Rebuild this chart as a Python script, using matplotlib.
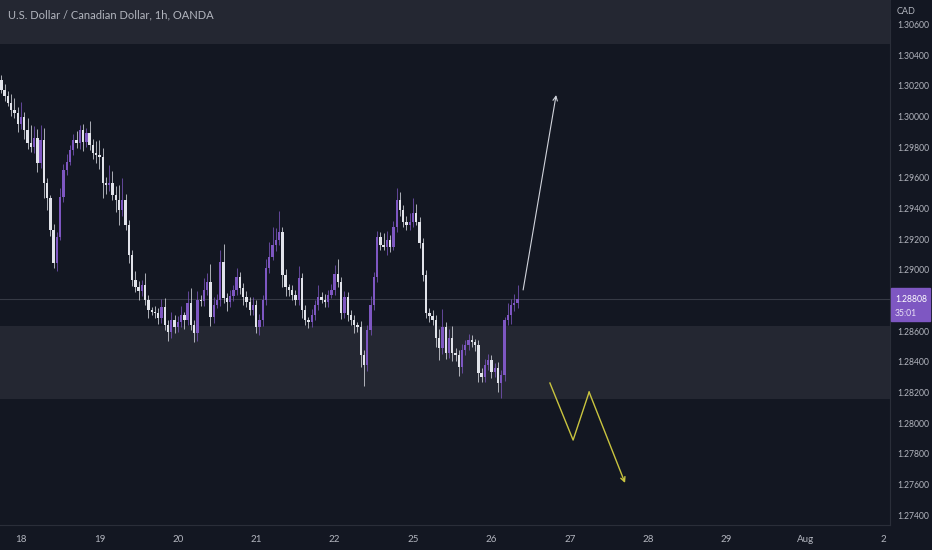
import matplotlib.pyplot as plt
from matplotlib.patches import Rectangle
from matplotlib.transforms import blended_transform_factory

# USD/CAD 1h, OANDA - hourly closes (first candle starts the list)
first_open = 1.30237
closes = [
    1.30172, 1.30133, 1.30087, 1.30042, 1.30022, 1.29950,
    # 18
    1.29996, 1.29911, 1.29826, 1.29800, 1.29859, 1.29696, 1.29846, 1.29566,
    1.29468, 1.29259, 1.29044, 1.29213, 1.29474, 1.29650, 1.29702, 1.29781,
    1.29846, 1.29826, 1.29911, 1.29833, 1.29892, 1.29813, 1.29761, 1.29748,
    # 19
    1.29735, 1.29566, 1.29552, 1.29566, 1.29487, 1.29455, 1.29389, 1.29455,
    1.29292, 1.29096, 1.28933, 1.28887, 1.28861, 1.28900, 1.28802, 1.28737,
    1.28724, 1.28718, 1.28685, 1.28757, 1.28639, 1.28594, 1.28672, 1.28626,
    # 20
    1.28659, 1.28705, 1.28672, 1.28783, 1.28639, 1.28587, 1.28802, 1.28796,
    1.28868, 1.28920, 1.28692, 1.28770, 1.28802, 1.29050, 1.28815, 1.28789,
    1.28829, 1.28868, 1.28952, 1.28881, 1.28822, 1.28789, 1.28737, 1.28770,
    # 21
    1.28626, 1.28672, 1.28802, 1.29011, 1.29083, 1.29161, 1.29194, 1.29246,
    1.28965, 1.28887, 1.28868, 1.28835, 1.28802, 1.28946, 1.28737, 1.28672,
    1.28659, 1.28705, 1.28770, 1.28822, 1.28802, 1.28789, 1.28835, 1.28868,
    # 22
    1.28972, 1.28920, 1.28718, 1.28822, 1.28705, 1.28672, 1.28639, 1.28626,
    1.28444, 1.28379, 1.28607, 1.28770, 1.28952, 1.29213, 1.29161, 1.29148,
    1.29194, 1.29148, 1.29279, 1.29455, 1.29389, 1.29311, 1.29292, 1.29311,
    # 25
    1.29370, 1.29311, 1.29174, 1.28965, 1.28718, 1.28698, 1.28672, 1.28555,
    1.28489, 1.28626, 1.28457, 1.28555, 1.28457, 1.28444, 1.28365, 1.28476,
    1.28509, 1.28542, 1.28529, 1.28509, 1.28327, 1.28300, 1.28379, 1.28411,
    # 26
    1.28333, 1.28359, 1.28261, 1.28313, 1.28672, 1.28705, 1.28770, 1.28783,
    1.28808,
]
# wick lengths above / below the body, in pips
wick_up = [
    3, 4, 3, 6, 8, 4, 10, 3, 8, 12,
    8, 6, 10, 8, 3, 2, 4, 3, 6, 4,
    5, 3, 4, 6, 3, 4, 3, 8, 4, 8,
    10, 6, 4, 12, 8, 6, 10, 14, 4, 3,
    3, 6, 4, 3, 8, 3, 2, 4, 3, 5,
    6, 3, 5, 3, 4, 6, 2, 8, 10, 3,
    6, 3, 8, 6, 12, 5, 4, 8, 12, 3,
    4, 3, 6, 3, 3, 4, 3, 5, 3, 4,
    3, 6, 10, 12, 8, 14, 3, 4, 2, 3,
    3, 8, 3, 3, 2, 4, 3, 8, 3, 4,
    3, 4, 6, 10, 3, 4, 3, 3, 3, 2,
    4, 3, 3, 6, 3, 4, 3, 8, 6, 3,
    4, 8, 5, 3, 4, 6, 10, 6, 3, 3,
    3, 3, 4, 3, 6, 12, 3, 6, 8, 3,
    3, 4, 3, 4, 3, 2, 3, 3, 4, 4,
    3, 3, 4, 3, 2, 8, 4, 6, 9,
]
wick_down = [
    2, 3, 2, 4, 3, 5, 3, 6, 4, 3,
    4, 6, 3, 10, 8, 4, 3, 5, 2, 3,
    3, 2, 3, 3, 4, 6, 3, 3, 4, 5,
    8, 10, 6, 4, 3, 8, 10, 4, 3, 5,
    4, 3, 6, 3, 3, 5, 2, 3, 4, 3,
    3, 6, 4, 4, 3, 3, 6, 3, 3, 6,
    5, 3, 3, 3, 6, 4, 2, 4, 3, 6,
    3, 3, 3, 4, 5, 3, 3, 3, 4, 5,
    4, 3, 3, 2, 4, 3, 8, 6, 4, 3,
    3, 3, 5, 3, 4, 3, 3, 3, 2, 3,
    3, 2, 3, 3, 4, 3, 4, 3, 5, 3,
    8, 14, 4, 3, 3, 3, 3, 2, 5, 3,
    2, 3, 4, 3, 3, 3, 3, 2, 3, 4,
    3, 4, 3, 6, 8, 4, 4, 3, 5, 4,
    6, 4, 3, 3, 3, 4, 6, 3, 3, 3,
    4, 3, 6, 10, 4, 3, 6, 4, 3,
]
first_index = -6  # six candles before the 18th
day_labels = ["18", "19", "20", "21", "22", "25", "26", "27", "28", "29", "Aug", "2"]
price_ticks = [1.274, 1.276, 1.278, 1.280, 1.282, 1.284, 1.286,
               1.290, 1.292, 1.294, 1.296, 1.298, 1.300, 1.302, 1.304, 1.306]
last_price = 1.28808
countdown = "35:01"
top_zone = (1.30472, 1.30759)
demand_zone = (1.28157, 1.28633)
up_path = ([153.7, 163.8], [1.28868, 1.30139])
down_path = ([161.9, 169.0, 173.9, 184.9], [1.28261, 1.27889, 1.28202, 1.27609])

bg = "#131722"
zone_col = "#242732"
up_col = "#7e57c2"
down_col = "#e1e3ea"
text_col = "#b2b5be"
scale_size = 6.2

plt.rcParams["font.family"] = ["Lato", "DejaVu Sans"]

fig = plt.figure(figsize=(9.32, 5.5), dpi=100, facecolor=bg)
ax = fig.add_axes([0, 25 / 550, 890 / 932, 525 / 550], facecolor=bg)

opens = [first_open] + closes[:-1]
xs = list(range(first_index, first_index + len(closes)))
for x, o, c, wu, wd in zip(xs, opens, closes, wick_up, wick_down):
    col = up_col if c >= o else down_col
    hi = max(o, c) + wu * 0.0001
    lo = min(o, c) - wd * 0.0001
    ax.vlines(x, lo, hi, color=col, lw=0.7, alpha=0.75, zorder=3)
    h = abs(c - o)
    if h < 0.00004:
        h = 0.00004
    ax.bar(x, h, bottom=min(o, c), width=0.72, color=col, lw=0, zorder=4)

ax.axhspan(*top_zone, color=zone_col, lw=0, zorder=1)
ax.axhspan(*demand_zone, color=zone_col, lw=0, zorder=1)
ax.axhline(last_price, color="#363a45", lw=0.8, zorder=2)

# projection drawings
ax.annotate("", xy=(up_path[0][1], up_path[1][1]), xytext=(up_path[0][0], up_path[1][0]),
            arrowprops=dict(arrowstyle="->", color="#d1d4dc", lw=0.8,
                            shrinkA=0, shrinkB=0, mutation_scale=8), zorder=5)
ax.plot(down_path[0][:-1], down_path[1][:-1], color="#c9c43f", lw=1.0, zorder=5)
ax.annotate("", xy=(down_path[0][-1], down_path[1][-1]),
            xytext=(down_path[0][-2], down_path[1][-2]),
            arrowprops=dict(arrowstyle="->", color="#c9c43f", lw=1.0,
                            shrinkA=0, shrinkB=0, mutation_scale=8), zorder=5)

ax.set_xlim(-6.43, 266.0)
ax.set_ylim(1.27335, 1.30759)

ax.yaxis.tick_right()
ax.set_yticks(price_ticks)
ax.set_yticklabels([f"{v:.5f}" for v in price_ticks], fontsize=scale_size)
ax.set_xticks([24 * k for k in range(len(day_labels))])
ax.set_xticklabels(day_labels, fontsize=7)
ax.tick_params(axis="both", length=0, colors=text_col)
ax.tick_params(axis="y", pad=5)
ax.tick_params(axis="x", pad=7)
for s in ax.spines.values():
    s.set_visible(False)
ax.spines["right"].set_visible(True)
ax.spines["right"].set_color("#2a2e39")
ax.spines["bottom"].set_visible(True)
ax.spines["bottom"].set_color("#2a2e39")

ax.text(0.009, 0.972, "U.S. Dollar / Canadian Dollar, 1h, OANDA", transform=ax.transAxes,
        color=text_col, fontsize=8, va="center", ha="left")

# right-hand header and last-price tag
fig.add_artist(Rectangle((891 / 932, 1 - 19 / 550), 41 / 932, 19 / 550,
                         transform=fig.transFigure, color=bg, zorder=6))
fig.text(897 / 932, 1 - 11 / 550, "CAD", color=text_col, fontsize=6.5, va="center", zorder=7)
tr = blended_transform_factory(fig.transFigure, ax.transData)
ax.add_patch(Rectangle((891 / 932, last_price - 0.00142), 39 / 932, 0.00215,
                       transform=tr, color=up_col, clip_on=False, zorder=8))
ax.text(895 / 932, last_price - 0.00005, f"{last_price:.5f}", transform=tr, color="white",
        fontsize=scale_size, ha="left", va="center", zorder=9, clip_on=False)
ax.text(895 / 932, last_price - 0.00095, countdown, transform=tr, color="#e8e0f5",
        fontsize=scale_size, ha="left", va="center", zorder=9, clip_on=False)

fig.savefig("out.png", dpi=100, facecolor=bg)
